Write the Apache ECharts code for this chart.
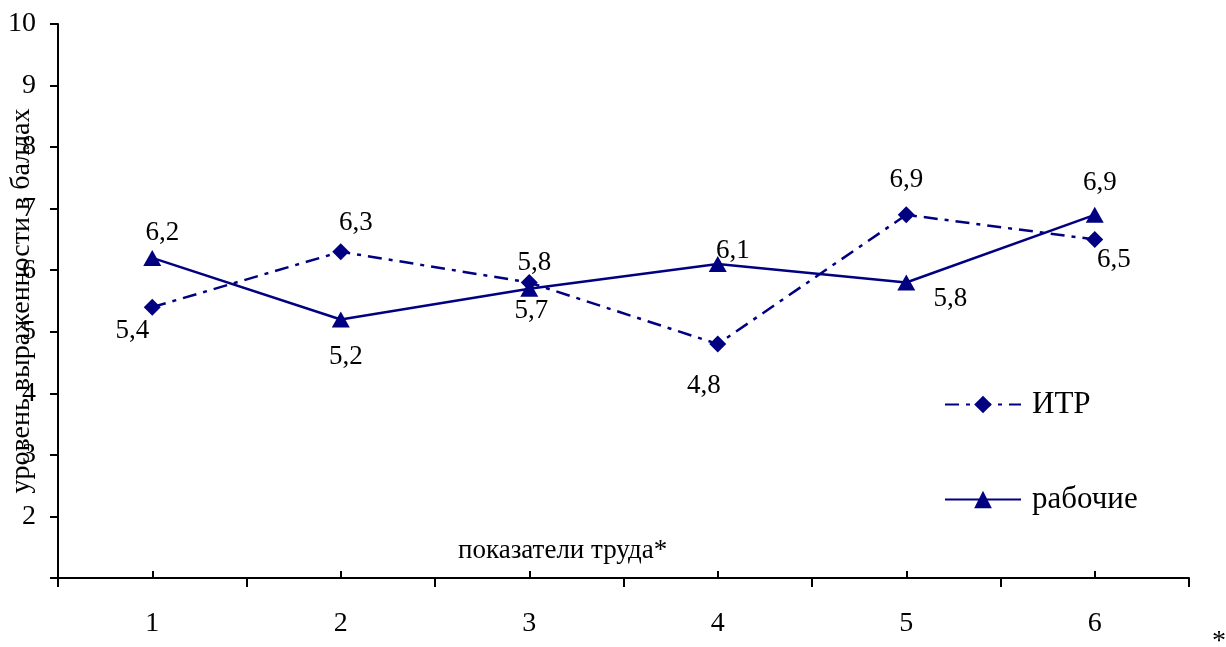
<!DOCTYPE html>
<html>
<head>
<meta charset="utf-8">
<script src="https://cdn.jsdelivr.net/npm/echarts@6/dist/echarts.min.js"></script>
<style>
html,body{margin:0;padding:0;background:#fff;}
#chart{width:1226px;height:647px;}
</style>
</head>
<body>
<div id="chart"></div>
<script>
const categories = ['1', '2', '3', '4', '5', '6'];
const itrValues = [5.4, 6.3, 5.8, 4.8, 6.9, 6.5];
const workerValues = [6.2, 5.2, 5.7, 6.1, 5.8, 6.9];
const seriesNames = ['ИТР', 'рабочие'];
const xAxisTitle = 'показатели труда*';
const yAxisTitle = 'уровень выраженности в баллах';

const FONT = '"Liberation Serif", "Times New Roman", serif';
const NAVY = '#000080';

// label placement (layout only)
const itrLabelOffsets = [[-20, 24], [15, -29], [5, -20], [-14, 42], [0, -35], [19, 20]];
const workerLabelOffsets = [[10, -25], [5, 37], [2, 22], [15, -13], [44, 16], [5, -32]];

function withLabels(values, offsets) {
  return values.map((v, i) => ({ value: v, label: { offset: offsets[i] } }));
}
const fmt = p => String(p.value).replace('.', ',');

const chart = echarts.init(document.getElementById('chart'), null, { renderer: 'canvas' });
chart.setOption({
  animation: false,
  backgroundColor: '#fff',
  grid: { left: 58, right: 37, top: 24, bottom: 69, containLabel: false, outerBoundsMode: 'none' },
  xAxis: [
    {
      type: 'category',
      data: categories,
      boundaryGap: true,
      axisLine: { lineStyle: { color: '#000', width: 2 } },
      axisTick: { show: true, interval: 0, inside: false, length: 9, lineStyle: { color: '#000', width: 2 } },
      axisLabel: { color: '#000', fontFamily: FONT, fontSize: 28, margin: 32 },
      splitLine: { show: false }
    },
    {
      type: 'category',
      data: categories,
      boundaryGap: true,
      position: 'bottom',
      axisLine: { show: false },
      axisTick: { show: true, alignWithLabel: true, interval: 0, inside: true, length: 7, lineStyle: { color: '#000', width: 2 } },
      axisLabel: { show: false },
      splitLine: { show: false }
    }
  ],
  yAxis: {
    type: 'value',
    min: 1,
    max: 10,
    interval: 1,
    name: yAxisTitle,
    nameLocation: 'middle',
    nameGap: 22,
    nameMoveOverlap: false,
    nameTextStyle: { color: '#000', fontFamily: FONT, fontSize: 28 },
    axisLine: { show: true, lineStyle: { color: '#000', width: 2 } },
    axisTick: { show: true, inside: false, length: 8, lineStyle: { color: '#000', width: 2 } },
    axisLabel: {
      color: '#000', fontFamily: FONT, fontSize: 28, margin: 22,
      formatter: v => (v === 1 ? '' : String(v))
    },
    splitLine: { show: false }
  },
  legend: {
    orient: 'vertical',
    left: 939,
    top: 384,
    itemWidth: 76,
    itemHeight: 22,
    itemGap: 64,
    textStyle: { color: '#000', fontFamily: FONT, fontSize: 31, padding: [0, 0, 0, 6] },
    data: seriesNames
  },
  graphic: [
    { type: 'text', left: 458, top: 537, style: { text: xAxisTitle, font: '27px ' + FONT, fill: '#000' } },
    { type: 'text', left: 1212, top: 628, style: { text: '*', font: '28px ' + FONT, fill: '#000' } }
  ],
  series: [
    {
      name: seriesNames[0],
      type: 'line',
      data: withLabels(itrValues, itrLabelOffsets),
      symbol: 'diamond',
      symbolSize: 17,
      itemStyle: { color: NAVY },
      lineStyle: { color: NAVY, width: 2.5, type: [14, 7, 4, 7] },
      label: { show: true, position: 'inside', formatter: fmt, color: '#000', fontFamily: FONT, fontSize: 27 },
      z: 3
    },
    {
      name: seriesNames[1],
      type: 'line',
      data: withLabels(workerValues, workerLabelOffsets),
      symbol: 'triangle',
      symbolSize: [18, 16],
      itemStyle: { color: NAVY },
      lineStyle: { color: NAVY, width: 2.5, type: 'solid' },
      label: { show: true, position: 'inside', formatter: fmt, color: '#000', fontFamily: FONT, fontSize: 27 },
      z: 3
    }
  ]
});
</script>
</body>
</html>
